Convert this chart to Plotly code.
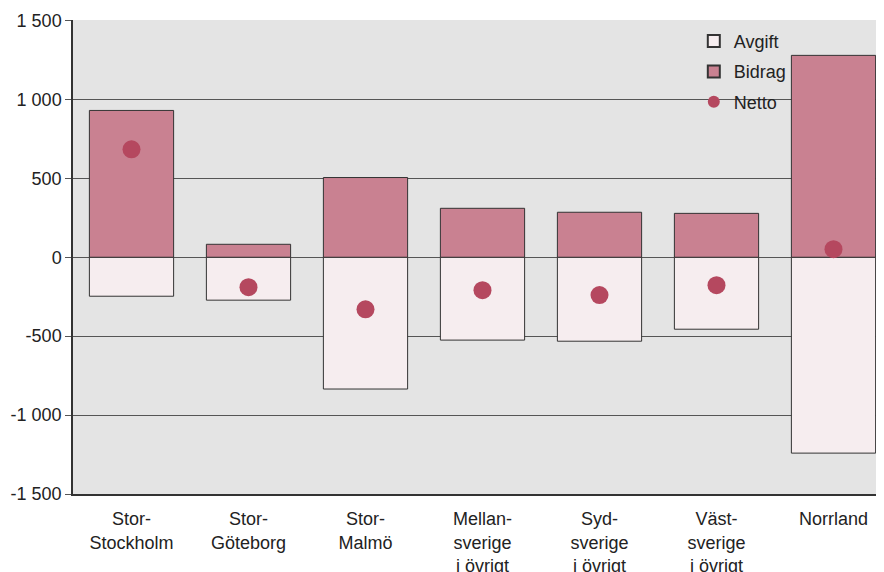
import plotly.graph_objects as go

categories = ["Stor-<br>Stockholm", "Stor-<br>Göteborg", "Stor-<br>Malmö",
              "Mellan-<br>sverige<br>i övrigt", "Syd-<br>sverige<br>i övrigt",
              "Väst-<br>sverige<br>i övrigt", "Norrland"]
avgift = [-247, -272, -835, -525, -532, -456, -1241]
bidrag = [930, 82, 505, 310, 285, 278, 1279]
netto = [684, -190, -330, -209, -240, -177, 51]

y_tickvals = [1500, 1000, 500, 0, -500, -1000, -1500]
y_ticktext = ["1 500", "1 000", "500", "0", "-500", "-1 000", "-1 500"]

font_family = "Liberation Sans, Arial, sans-serif"

fig = go.Figure()
fig.add_trace(go.Bar(x=categories, y=avgift, name="Avgift", width=0.72, legendgroup="a",
                     marker=dict(color="#F6EDEF", line=dict(color="#333333", width=1))))
fig.add_trace(go.Bar(x=categories, y=bidrag, name="Bidrag", width=0.72, legendgroup="b",
                     marker=dict(color="#C98191", line=dict(color="#333333", width=1))))
fig.add_trace(go.Scatter(x=categories, y=netto, name="Netto", mode="markers", legendgroup="c",
                         marker=dict(color="#B5485F", size=18)))

fig.update_layout(
    width=884, height=572,
    barmode="relative",
    paper_bgcolor="white",
    plot_bgcolor="#E4E4E4",
    margin=dict(l=65, r=0, t=12, b=86),
    font=dict(family=font_family, size=18, color="#222222"),
    legend=dict(x=0.758, y=0.994, xanchor="left", yanchor="top",
                bgcolor="rgba(0,0,0,0)", font=dict(size=18),
                traceorder="grouped", tracegroupgap=4,
                itemsizing="constant"),
    showlegend=True,
)
fig.update_xaxes(range=[-0.5, 6.5], showgrid=False, showline=True, automargin=False,
                 linecolor="#333333", linewidth=1.5, ticks="", ticklabelstandoff=8)
fig.update_yaxes(range=[-1500, 1503], tickvals=y_tickvals, ticktext=y_ticktext,
                 showgrid=True, gridcolor="#555555", gridwidth=1, automargin=False,
                 zeroline=False, showline=True, linecolor="#333333", linewidth=1.5,
                 ticks="outside", ticklen=6, tickcolor="#555555")

fig.write_html("out.html")
